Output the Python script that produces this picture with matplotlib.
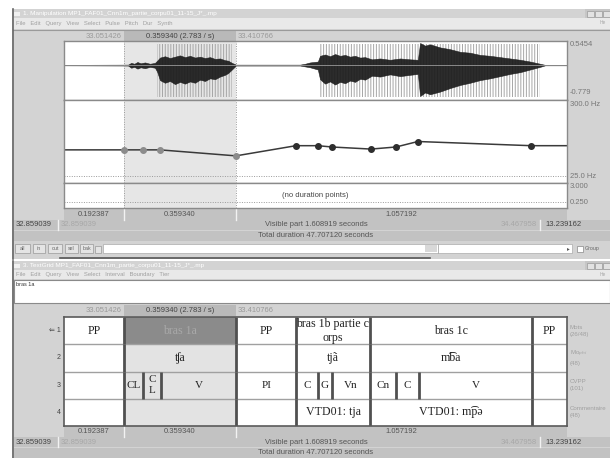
import numpy as np
import matplotlib
matplotlib.use("Agg")
import matplotlib.pyplot as plt
from matplotlib.patches import Rectangle
from matplotlib.colors import LinearSegmentedColormap

W, H = 610, 458
plt.rcParams["font.family"] = ["Liberation Sans", "DejaVu Sans"]
plt.rcParams["hatch.linewidth"] = 0.7
SERIF = ["Liberation Serif", "DejaVu Serif"]

T_START, T_END = 32.859039, 34.467958
SEL_START, SEL_END = 33.051426, 33.410766
TOTAL = 47.707120
AMP_MAX, AMP_MIN = 0.5454, -0.779
PITCH_TOP, PITCH_BOTTOM = 300.0, 25.0
DUR_TOP, DUR_BOTTOM = 3.0, 0.25

wave_t = [32.859, 33.064, 33.074, 33.084, 33.094, 33.104, 33.118, 33.134, 33.150, 33.157,
          33.166, 33.182, 33.198, 33.214, 33.230, 33.246, 33.262, 33.278, 33.294, 33.310,
          33.326, 33.342, 33.358, 33.374, 33.384, 33.396, 33.409, 33.614, 33.630, 33.646,
          33.671, 33.678, 33.694, 33.710, 33.726, 33.742, 33.758, 33.774, 33.790, 33.806,
          33.822, 33.844, 33.870, 33.902, 33.934, 33.966, 33.991, 33.998, 34.014, 34.030,
          34.062, 34.094, 34.126, 34.158, 34.190, 34.222, 34.254, 34.286, 34.318, 34.350,
          34.382, 34.398, 34.468]
wave_hi = [0.005, 0.01, 0.05, 0.03, 0.07, 0.04, 0.06, 0.03, 0.05, 0.10,
           0.17, 0.20, 0.16, 0.19, 0.22, 0.18, 0.21, 0.17, 0.19, 0.16,
           0.18, 0.14, 0.15, 0.11, 0.10, 0.05, 0.01, 0.01, 0.03, 0.06,
           0.08, 0.21, 0.24, 0.20, 0.25, 0.21, 0.23, 0.19, 0.21, 0.17,
           0.18, 0.13, 0.15, 0.12, 0.15, 0.13, 0.12, 0.50, 0.44, 0.47,
           0.40, 0.36, 0.30, 0.28, 0.23, 0.21, 0.18, 0.15, 0.12, 0.08,
           0.03, 0.005, 0.005]
wave_lo = [-0.005, -0.01, -0.06, -0.04, -0.08, -0.05, -0.07, -0.04, -0.06, -0.15,
           -0.34, -0.40, -0.36, -0.43, -0.38, -0.42, -0.37, -0.40, -0.33, -0.36,
           -0.30, -0.32, -0.26, -0.22, -0.18, -0.10, -0.01, -0.01, -0.03, -0.05,
           -0.10, -0.32, -0.42, -0.37, -0.44, -0.38, -0.41, -0.35, -0.38, -0.31,
           -0.33, -0.24, -0.26, -0.21, -0.25, -0.22, -0.20, -0.70, -0.62, -0.66,
           -0.60, -0.52, -0.45, -0.40, -0.34, -0.30, -0.25, -0.20, -0.16, -0.10,
           -0.04, -0.005, -0.005]
pulse_spans = [(33.157, 33.396), (33.674, 34.382)]

pitch_t = [33.052, 33.112, 33.166, 33.409, 33.601, 33.671, 33.716, 33.841, 33.921, 33.991, 34.353]
pitch_hz = [127, 127, 127, 104, 143, 143, 138, 130, 138, 159, 143]

tier_names = ["Mots\n(26/48)", "Mo$_{phi}$\n(48)", "CVPP\n(101)", "Commentaire\n(48)"]
tier1_bounds = [SEL_START, SEL_END, 33.601, 33.838, 34.356]
tier1_labels = ["PP", "bras 1a", "PP", "bras 1b partie c\norps", "bras 1c", "PP"]
tier2_bounds = [SEL_START, SEL_END, 33.601, 33.838, 34.356]
tier2_labels = ["", "ʧa", "", "tjã", "m͡ba", ""]
tier3_bounds = [SEL_START, 33.112, 33.169, SEL_END, 33.601, 33.671, 33.716,
                33.838, 33.921, 33.995, 34.356]
tier3_labels = ["", "CL", "C\nL", "V", "PI", "C", "G", "Vn", "Cn", "C", "V", ""]
tier4_bounds = [SEL_START, SEL_END, 33.601, 33.838, 34.356]
tier4_labels = ["", "", "", "VTD01: tja", "VTD01: m͡pə", ""]
tiers = [(tier1_bounds, tier1_labels), (tier2_bounds, tier2_labels),
         (tier3_bounds, tier3_labels), (tier4_bounds, tier4_labels)]

# ── helpers ──────────────────────────────────────────────────────────────────
fig = plt.figure(figsize=(W / 100, H / 100), dpi=100)
bg = fig.add_axes([0, 0, 1, 1])
bg.axis("off")
UI = "#d3d3d3"
BAR = "#c2c2c2"

def box(x0, y0, x1, y1, fc, ec="none", lw=0):
    bg.add_patch(Rectangle((x0, y0), x1 - x0, y1 - y0, facecolor=fc, edgecolor=ec, linewidth=lw))

def txt(x, y, s, size=5.5, color="#555", ha="left", **kw):
    bg.text(x, y, s, fontsize=size, color=color, ha=ha, va="center", **kw)

def panel(x0, y0, x1, y1):
    a = fig.add_axes([x0 / W, 1 - y1 / H, (x1 - x0) / W, (y1 - y0) / H])
    a.set_xlim(T_START, T_END)
    a.set_xticks([]); a.set_yticks([])
    for s in a.spines.values():
        s.set_color("#8a8a8a"); s.set_linewidth(1.0)
    return a

tb_cmap = LinearSegmentedColormap.from_list("tb", ["#8a8a8a", "#c6c6c6"])

def title_bar(y0, y1, label):
    bg.imshow(np.linspace(0, 1, 64)[None, :], extent=(12, 585, y1, y0), cmap=tb_cmap, aspect="auto")
    box(585, y0, 610, y1, "#c6c6c6")
    for bx in (587, 595, 603):
        box(bx, y0 + 1.5, bx + 7, y1 - 1.5, "#e2e2e2", "#9a9a9a", 0.5)
    box(14, y0 + 2.5, 20, y1 - 2.5, "#f0f0f0")
    txt(23, (y0 + y1) / 2, label, size=4.6, color="white")

def time_rows(y0):
    # ligne des durées
    box(64, y0, 567, y0 + 11, BAR)
    for xb in (124, 236):
        bg.plot([xb, xb], [y0, y0 + 11], color="#f2f2f2", lw=1)
    txt(94, y0 + 5.5, f"{SEL_START - T_START:.6f}", ha="center")
    txt(180, y0 + 5.5, f"{SEL_END - SEL_START:.6f}", ha="center")
    txt(401, y0 + 5.5, f"{T_END - SEL_END:.6f}", ha="center")
    # partie visible
    y1 = y0 + 11
    box(14, y1, 610, y1 + 10, BAR)
    bg.plot([58, 58], [y1, y1 + 10], color="#f2f2f2", lw=1)
    bg.plot([540, 540], [y1, y1 + 10], color="#f2f2f2", lw=1)
    txt(16, y1 + 5, f"{T_START:.6f}", color="#444")
    txt(61, y1 + 5, f"{T_START:.6f}", color="#a8a8a8")
    txt(316, y1 + 5, f"Visible part {T_END - T_START:.6f} seconds", ha="center")
    txt(537, y1 + 5, f"{T_END:.6f}", color="#a8a8a8", ha="right")
    txt(545, y1 + 5, f"{TOTAL - T_END:.6f}", color="#444")
    y2 = y1 + 10
    box(14, y2 + 1, 610, y2 + 11, BAR)
    txt(316, y2 + 6, f"Total duration {TOTAL:.6f} seconds", ha="center")

def ruler(y0, y1):
    box(14, y0, 610, y1, UI)
    box(124, y0, 236, y1, "#b9b9b9")
    yc = (y0 + y1) / 2
    txt(122, yc, f"{SEL_START:.6f}", color="#9a9a9a", ha="right")
    txt(180, yc, f"{SEL_END - SEL_START:.6f} ({1 / (SEL_END - SEL_START):.3f} / s)", ha="center", color="#444")
    txt(238, yc, f"{SEL_END:.6f}", color="#9a9a9a")

# ── fenêtre 1 : Manipulation ─────────────────────────────────────────────────
box(0, 0, W, H, "white")
box(12, 9, 610, 259, UI)
title_bar(9, 18, "1. Manipulation MP1_FAF01_Cnn1m_partie_corpu01_11-15_J*_.mp")
box(13, 18, 610, 29, "#e9e9e9")
txt(16, 23.5, "File   Edit   Query   View   Select   Pulse   Pitch   Dur   Synth", size=4.2, color="#a0a0a0")
txt(600, 23, "He", size=3.5, color="#aaaaaa")
bg.plot([13, 610], [29.5, 29.5], color="#9a9a9a", lw=0.8)
ruler(31, 41)
bg.plot([12.5, 12.5], [9, 259], color="#666666", lw=1.2)

# onde sonore + impulsions
ax_w = panel(64, 41, 567, 99.5)
ax_w.set_ylim(AMP_MIN, AMP_MAX)
ax_w.axvspan(SEL_START, SEL_END, color="#e6e6e6", lw=0)
for a, b in pulse_spans:
    ax_w.add_patch(Rectangle((a, 0.05), b - a, 0.9, transform=ax_w.get_xaxis_transform(),
                             facecolor="none", edgecolor="#a6a6a6", linewidth=0, hatch="||||||"))
ax_w.axhline(0, color="#8a8a8a", lw=0.7)
ax_w.fill_between(wave_t, wave_lo, wave_hi, color="#1a1a1a", lw=0.4, alpha=0.92)

# hauteur (pitch)
ax_p = panel(64, 99.5, 567, 183)
ax_p.set_ylim(0, 320)
ax_p.axvspan(SEL_START, SEL_END, color="#e6e6e6", lw=0)
ax_p.axhline(PITCH_BOTTOM, color="#9a9a9a", lw=0.7, ls=(0, (1, 1.5)))
ax_p.plot([T_START] + pitch_t + [T_END], [pitch_hz[0]] + pitch_hz + [pitch_hz[-1]],
          color="#3a3a3a", lw=1.1)
sel = [(SEL_START <= t <= SEL_END) for t in pitch_t]
ax_p.scatter([t for t, s in zip(pitch_t, sel) if s], [h for h, s in zip(pitch_hz, sel) if s],
             s=16, color="#8c8c8c", zorder=3)
ax_p.scatter([t for t, s in zip(pitch_t, sel) if not s], [h for h, s in zip(pitch_hz, sel) if not s],
             s=16, color="#2e2e2e", zorder=3)

# durée
ax_d = panel(64, 183, 567, 208)
ax_d.set_ylim(DUR_BOTTOM, 3.3)
ax_d.axvspan(SEL_START, SEL_END, color="#e6e6e6", lw=0)
ax_d.axhline(1.0, color="#9a9a9a", lw=0.7, ls=(0, (1, 1.5)))
ax_d.text(0.5, 0.5, "(no duration points)", transform=ax_d.transAxes, ha="center", va="center",
          fontsize=5.5, color="#444")

for a in (ax_w, ax_p, ax_d):
    for t in (SEL_START, SEL_END):
        a.axvline(t, color="#9a9a9a", lw=0.7, ls=(0, (1, 1.5)))

# étiquettes des panneaux
for y, s, c in [(45, "Sound", "#555"), (49.5, "Pulses", "#aaa"), (104, "Pitch manip", "#555"),
                (109.5, "Pitch from pulses", "#bbb"), (188, "Duration manip", "#555")]:
    bg.text(565, y, s, fontsize=4.6, color=c, ha="right", va="center", style="italic", family=SERIF)
txt(570, 45, f"{AMP_MAX:.4f}", color="#777")
txt(570, 93, f"{AMP_MIN:.3f}", color="#777")
txt(570, 104, f"{PITCH_TOP:.1f} Hz", color="#777")
txt(570, 177, f"{PITCH_BOTTOM:.1f} Hz", color="#777")
txt(570, 187, f"{DUR_TOP:.3f}", color="#777")
txt(570, 203, f"{DUR_BOTTOM:.3f}", color="#777")

time_rows(208.5)

# boutons + barre de défilement
for x0, x1, s in [(15, 30, "all"), (33, 45, "in"), (48, 62, "out"), (65, 78, "sel"), (80, 93, "bak")]:
    box(x0, 244, x1, 253, "#e4e4e4", "#999999", 0.5)
    txt((x0 + x1) / 2, 248.5, s, size=3.8, color="#666", ha="center")
box(95, 246, 101, 253, "#e4e4e4", "#999999", 0.5)
box(103, 244, 572, 253, "white", "#aaaaaa", 0.5)
box(425, 245, 437, 252, "#d8d8d8")
bg.plot([438, 438], [244, 253], color="#aaaaaa", lw=0.6)
txt(568, 248.5, "▸", size=4, color="#555", ha="center")
box(577, 245.5, 583, 251.5, "white", "#888888", 0.5)
txt(585, 248.5, "Group", size=3.8, color="#666")
bg.plot([60, 430], [258, 258], color="#555555", lw=1.2)

# ── fenêtre 3 : TextGrid ─────────────────────────────────────────────────────
box(12, 261, 610, 458, UI)
bg.plot([12.5, 12.5], [261, 458], color="#666666", lw=1.2)
title_bar(261, 270, "3. TextGrid MP1_FAF01_Cnn1m_partie_corpu01_11-15_J*_.mp")
box(13, 270, 610, 279, "#e9e9e9")
txt(16, 274.5, "File   Edit   Query   View   Select   Interval   Boundary   Tier", size=4.2, color="#a0a0a0")
txt(600, 274.5, "He", size=3.5, color="#aaaaaa")
box(14, 280, 610, 303, "white", "#8a8a8a", 0.8)
txt(16, 284.5, "bras 1a", size=4, color="#333")
ruler(305, 316)

ax_t = panel(64, 317, 567, 426)
ax_t.set_ylim(4, 0)
ax_t.axvspan(SEL_START, SEL_END, ymin=0, ymax=0.75, color="#e3e3e3", lw=0)
ax_t.add_patch(Rectangle((SEL_START, 0), SEL_END - SEL_START, 1, facecolor="#8b8b8b", lw=0))
ax_t.hlines([1, 2, 3], T_START, T_END, color="#a0a0a0", lw=1.0)
for i, (bounds, labels) in enumerate(tiers):
    ax_t.vlines(bounds, i, i + 1, color="#505050", lw=2.0)
    edges = [T_START] + bounds + [T_END]
    for k, lab in enumerate(labels):
        if not lab:
            continue
        col = "#a9a9a9" if (i == 0 and edges[k] == SEL_START) else "#222222"
        small = i == 2 and len(lab) <= 3
        ax_t.text((edges[k] + edges[k + 1]) / 2, i + 0.5, lab, ha="center", va="center",
                  fontsize=8.0 if small else 8.6, color=col, family=SERIF,
                  linespacing=1.25 if small else 1.2)
for s in ax_t.spines.values():
    s.set_color("#5a5a5a"); s.set_linewidth(1.2)

for i, name in enumerate(tier_names):
    y = 317 + (i + 0.5) * 27.25
    txt(61, y, ("⇐ " if i == 0 else "") + str(i + 1), size=5, color="#444", ha="right")
    txt(570, y, name, size=4.4, color="#a0a0a0", linespacing=1.5)

time_rows(426)

bg.set_xlim(0, W)
bg.set_ylim(H, 0)
fig.savefig("out.png", dpi=100)
